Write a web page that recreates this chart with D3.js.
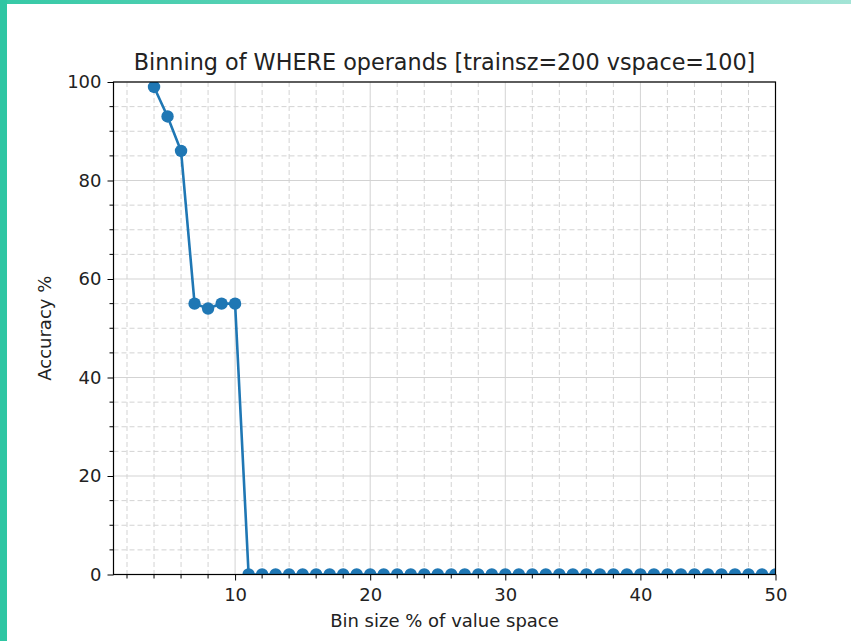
<!DOCTYPE html>
<html>
<head>
<meta charset="utf-8">
<script src="https://cdn.jsdelivr.net/npm/d3@7"></script>
<style>
	body { margin: 0; background: #fff; }
	svg { display: block; font-family: "DejaVu Sans", sans-serif; }
	.grid-major line { stroke: #d3d3d3; stroke-width: 1; }
	.grid-minor line { stroke: #d3d3d3; stroke-width: 1; stroke-dasharray: 5,3; }
	.axis path, .axis line { stroke: #000; }
	.axis text { fill: #222; font-size: 18px; font-family: "DejaVu Sans", sans-serif; }
</style>
</head>
<body>
<svg></svg>
<script>

// DATA

var titleText = "Binning of WHERE operands [trainsz=200 vspace=100]"
var xLabel = "Bin size % of value space"
var yLabel = "Accuracy %"

var binSize = [4, 5, 6, 7, 8, 9, 10, 11, 12, 13, 14, 15, 16, 17, 18, 19, 20,
	21, 22, 23, 24, 25, 26, 27, 28, 29, 30, 31, 32, 33, 34, 35, 36, 37, 38, 39, 40,
	41, 42, 43, 44, 45, 46, 47, 48, 49, 50]

var accuracy = [99, 93, 86, 55, 54, 55, 55, 0, 0, 0, 0, 0, 0, 0, 0, 0, 0,
	0, 0, 0, 0, 0, 0, 0, 0, 0, 0, 0, 0, 0, 0, 0, 0, 0, 0, 0, 0,
	0, 0, 0, 0, 0, 0, 0, 0, 0, 0]

var xTicks = [10, 20, 30, 40, 50]
var yTicks = [0, 20, 40, 60, 80, 100]

// VIS

var width = 851
var height = 641

var mLeft = 113.5, mRight = 775.5, mTop = 82, mBottom = 574.5

var svg = d3.select("svg")
	.attr("width", width)
	.attr("height", height)

// teal frame
var defs = svg.append("defs")
var grad = defs.append("linearGradient").attr("id", "frame")
grad.append("stop").attr("offset", "0%").attr("stop-color", "#36c9a6")
grad.append("stop").attr("offset", "100%").attr("stop-color", "#a3e4d6")

svg.append("rect").attr("x", 0).attr("y", 0).attr("width", width).attr("height", 4).attr("fill", "url(#frame)")
svg.append("rect").attr("x", 0).attr("y", 0).attr("width", 7).attr("height", height).attr("fill", "#2fc6a3")

defs.append("clipPath").attr("id", "plot-clip")
	.append("rect")
	.attr("x", mLeft).attr("y", mTop)
	.attr("width", mRight - mLeft).attr("height", mBottom - mTop)

var x = d3.scaleLinear().domain([1, 50]).range([mLeft, mRight])
var y = d3.scaleLinear().domain([0, 100]).range([mBottom, mTop])

var xMinor = d3.range(2, 51, 2).filter(function(d) { return xTicks.indexOf(d) < 0 })
var yMinor = d3.range(5, 100, 5).filter(function(d) { return yTicks.indexOf(d) < 0 })

// grid
var gMinor = svg.append("g").attr("class", "grid-minor")
gMinor.selectAll(".vx").data(xMinor).enter().append("line")
	.attr("x1", function(d) { return x(d) }).attr("x2", function(d) { return x(d) })
	.attr("y1", mTop).attr("y2", mBottom)
gMinor.selectAll(".hy").data(yMinor).enter().append("line")
	.attr("y1", function(d) { return y(d) }).attr("y2", function(d) { return y(d) })
	.attr("x1", mLeft).attr("x2", mRight)

var gMajor = svg.append("g").attr("class", "grid-major")
gMajor.selectAll(".vx").data(xTicks).enter().append("line")
	.attr("x1", function(d) { return x(d) }).attr("x2", function(d) { return x(d) })
	.attr("y1", mTop).attr("y2", mBottom)
gMajor.selectAll(".hy").data(yTicks).enter().append("line")
	.attr("y1", function(d) { return y(d) }).attr("y2", function(d) { return y(d) })
	.attr("x1", mLeft).attr("x2", mRight)

// line + markers
var plot = svg.append("g").attr("clip-path", "url(#plot-clip)")

var pts = binSize.map(function(d, i) { return [d, accuracy[i]] })

plot.append("path")
	.datum(pts)
	.attr("fill", "none")
	.attr("stroke", "#1f77b4")
	.attr("stroke-width", 2.6)
	.attr("d", d3.line()
		.x(function(d) { return x(d[0]) })
		.y(function(d) { return y(d[1]) }))

plot.selectAll(".dot").data(pts).enter().append("circle")
	.attr("class", "dot")
	.attr("cx", function(d) { return x(d[0]) })
	.attr("cy", function(d) { return y(d[1]) })
	.attr("r", 6.2)
	.attr("fill", "#1f77b4")

// axes
var xAxis = svg.append("g").attr("class", "axis")
	.attr("transform", "translate(0," + mBottom + ")")
	.call(d3.axisBottom(x).tickValues(xTicks).tickSize(6).tickPadding(8).tickFormat(d3.format("d")))
xAxis.select(".domain").remove()
xAxis.selectAll(".minor").data(xMinor).enter().append("line")
	.attr("x1", function(d) { return x(d) }).attr("x2", function(d) { return x(d) })
	.attr("y1", 0).attr("y2", 4).attr("stroke", "#000")

var yAxis = svg.append("g").attr("class", "axis")
	.attr("transform", "translate(" + mLeft + ",0)")
	.call(d3.axisLeft(y).tickValues(yTicks).tickSize(6).tickPadding(6).tickFormat(d3.format("d")))
yAxis.select(".domain").remove()
yAxis.selectAll(".minor").data(yMinor).enter().append("line")
	.attr("y1", function(d) { return y(d) }).attr("y2", function(d) { return y(d) })
	.attr("x1", 0).attr("x2", -4).attr("stroke", "#000")

// spines
svg.append("rect")
	.attr("x", mLeft).attr("y", mTop)
	.attr("width", mRight - mLeft).attr("height", mBottom - mTop)
	.attr("fill", "none").attr("stroke", "#000").attr("stroke-width", 1.2)

// labels
svg.append("text")
	.attr("x", (mLeft + mRight) / 2).attr("y", 70)
	.attr("text-anchor", "middle")
	.attr("font-size", 22.3).attr("fill", "#222")
	.text(titleText)

svg.append("text")
	.attr("x", (mLeft + mRight) / 2).attr("y", 627)
	.attr("text-anchor", "middle")
	.attr("font-size", 18).attr("fill", "#222")
	.text(xLabel)

svg.append("text")
	.attr("transform", "translate(51," + (mTop + mBottom) / 2 + ") rotate(-90)")
	.attr("text-anchor", "middle")
	.attr("font-size", 18).attr("fill", "#222")
	.text(yLabel)

</script>
</body>
</html>
